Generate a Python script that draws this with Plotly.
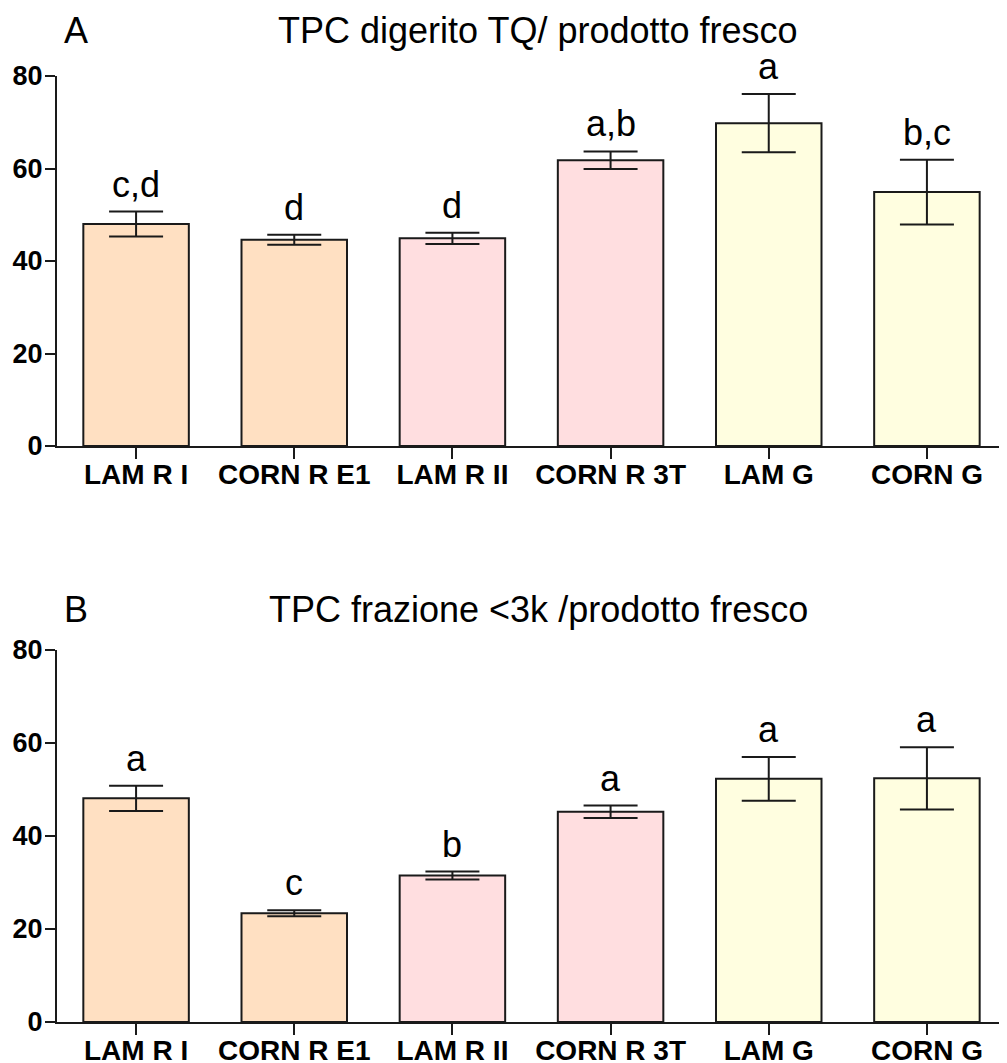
import plotly.graph_objects as go

categories = ["LAM R I", "CORN R E1", "LAM R II", "CORN R 3T", "LAM G", "CORN G"]
colors = ["#FFE0C2", "#FFE0C2", "#FFDEE0", "#FFDEE0", "#FFFEE0", "#FFFEE0"]

title_a = "TPC digerito TQ/ prodotto fresco"
values_a = [48.0, 44.6, 44.9, 61.8, 69.8, 54.9]
errors_a = [2.7, 1.1, 1.2, 1.9, 6.3, 7.0]
letters_a = ["c,d", "d", "d", "a,b", "a", "b,c"]

title_b = "TPC frazione <3k /prodotto fresco"
values_b = [48.1, 23.4, 31.5, 45.2, 52.3, 52.4]
errors_b = [2.7, 0.65, 0.85, 1.35, 4.7, 6.7]
letters_b = ["a", "c", "b", "a", "a", "a"]

yticks = [0, 20, 40, 60, 80]

# page body has an 8px margin; lay out in window pixels and subtract it
OFF = 8
W, H = 1007 - OFF, 1063 - OFF
FONT = "Liberation Sans, Arial, sans-serif"


def px_x(x):
    return (x - OFF) / W


def px_y(y):
    return (H - (y - OFF)) / H


fig = go.Figure()

panels = [
    ("x", "y", values_a, errors_a, letters_a, title_a, "A", (76, 446), 30.5),
    ("x2", "y2", values_b, errors_b, letters_b, title_b, "B", (650, 1022), 609),
]

xdom = [px_x(57), min(1.0, px_x(1006))]

for i, (xa, ya, vals, errs, letters, title, tag, (ytop, ybot), ty) in enumerate(panels):
    fig.add_trace(go.Bar(
        x=categories, y=vals, xaxis=xa, yaxis=ya,
        marker=dict(color=colors, line=dict(color="#1a1a1a", width=2)),
        width=0.667,
        error_y=dict(type="data", array=errs, visible=True, color="#1a1a1a",
                     thickness=2, width=27),
        showlegend=False,
    ))
    for c, v, e, t in zip(categories, vals, errs, letters):
        fig.add_annotation(
            x=c, y=v + e, xref=xa, yref=ya, text=t, showarrow=False,
            yanchor="bottom", yshift=5,
            font=dict(family=FONT, size=36, color="black"),
        )
    dom = [px_y(ybot), px_y(ytop)]
    suffix = "" if i == 0 else "2"
    fig.layout["xaxis" + suffix] = dict(
        domain=xdom, anchor=ya, type="category", range=[-0.5, 5.5],
        showline=True, linecolor="#1a1a1a", linewidth=2,
        ticks="outside", ticklen=11, tickwidth=2, tickcolor="#1a1a1a",
        tickfont=dict(family=FONT, size=28, color="black", weight="bold"),
        ticklabelstandoff=-9,
        showgrid=False, zeroline=False, fixedrange=True, automargin=False,
    )
    fig.layout["yaxis" + suffix] = dict(
        domain=dom, anchor=xa, range=[0, 80],
        tickvals=yticks, ticktext=[str(v) for v in yticks],
        showline=True, linecolor="#1a1a1a", linewidth=2,
        ticks="outside", ticklen=10, tickwidth=2, tickcolor="#1a1a1a",
        tickfont=dict(family=FONT, size=27, color="black", weight="bold"),
        ticklabelstandoff=-3,
        showgrid=False, zeroline=False, fixedrange=True, automargin=False,
    )
    ymid = px_y(ty)
    fig.add_annotation(x=px_x(62), y=ymid, xref="paper", yref="paper",
                       text=tag, showarrow=False, xanchor="left", yanchor="middle",
                       font=dict(family=FONT, size=36, color="black"))
    fig.add_annotation(x=px_x(538), y=ymid, xref="paper", yref="paper",
                       text=title, showarrow=False, xanchor="center", yanchor="middle",
                       font=dict(family=FONT, size=36, color="black"))

fig.update_layout(
    template="none",
    width=W, height=H,
    margin=dict(l=0, r=0, t=0, b=0, autoexpand=False),
    paper_bgcolor="white", plot_bgcolor="white",
    bargap=0.333,
)

fig.write_html("out.html")
